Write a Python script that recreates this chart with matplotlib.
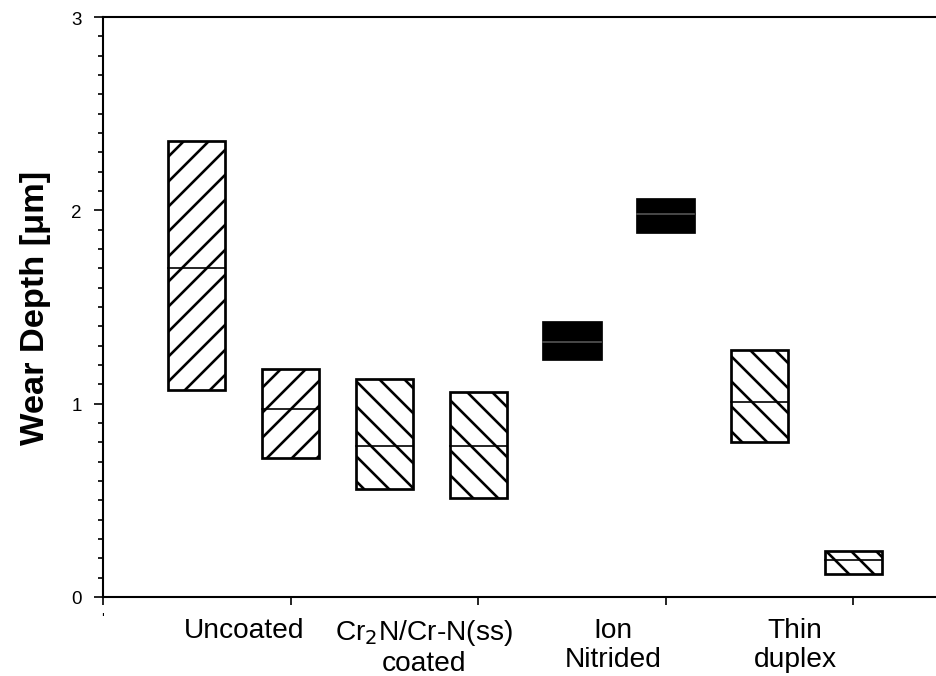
import matplotlib
matplotlib.use("Agg")
from matplotlib import pyplot as plt
from matplotlib import ticker

# Wear depth ranges per sample (two test conditions per surface treatment)
positions = [1, 2, 3, 4, 5, 6, 7, 8]
top = [2.36, 1.18, 1.13, 1.06, 1.42, 2.06, 1.28, 0.24]
bottom = [1.07, 0.72, 0.56, 0.51, 1.23, 1.89, 0.80, 0.12]
median = [1.70, 0.97, 0.78, 0.78, 1.32, 1.98, 1.01, 0.19]
hatches = ['//', '//', '\\\\', '\\\\', '', '', '\\\\', '\\\\']
fills = ['white', 'white', 'white', 'white', 'black', 'black', 'white', 'white']

groups = ['Uncoated', 'Cr$_2$N/Cr-N(ss)\ncoated', 'Ion\nNitrided', 'Thin\nduplex']
group_x = [1.51, 3.42, 5.44, 7.38]

plt.rcParams['font.family'] = ['Liberation Sans', 'DejaVu Sans']
plt.rcParams['hatch.linewidth'] = 1.25

fig = plt.figure(figsize=(6.24, 4.513), dpi=150)
ax = fig.add_axes([0.110, 0.1167, 0.890, 0.8567])

heights = [t - b for t, b in zip(top, bottom)]
width = 0.61
for x, h, b, m, hatch, fc in zip(positions, heights, bottom, median, hatches, fills):
    ax.bar(x, h, bottom=b, width=width, facecolor=fc, edgecolor='black',
           hatch=hatch, linewidth=1.3, zorder=2)
    line_color = '#555555' if fc == 'black' else 'black'
    ax.plot([x - width / 2, x + width / 2], [m, m], color=line_color,
            linewidth=0.8, zorder=3)

ax.set_xlim(0, 8.88)
ax.set_ylim(0, 3)

# Axes frame: left, bottom and top lines only
ax.spines['right'].set_visible(False)
for side in ['left', 'bottom', 'top']:
    ax.spines[side].set_linewidth(1.0)

ax.set_xticks([0, 2, 4, 6, 8])
ax.set_xticklabels(["'", '', '', '', ''], fontsize=7)
ax.tick_params(axis='x', direction='out', length=3.8, width=0.8, pad=3)

ax.yaxis.set_major_locator(ticker.MultipleLocator(1))
ax.yaxis.set_minor_locator(ticker.MultipleLocator(0.1))
ax.tick_params(axis='y', which='major', direction='out', length=4.3, width=0.8,
               pad=6, labelsize=9)
ax.tick_params(axis='y', which='minor', direction='out', length=2.4, width=0.8)

ax.set_ylabel('Wear Depth [\u03bcm]', fontsize=16.5, fontweight='bold')
ax.yaxis.set_label_coords(-0.062, 0.5)

for gx, label in zip(group_x, groups):
    ax.text(gx, -0.034, label, ha='center', va='top', fontsize=13.5,
            linespacing=1.15, transform=ax.get_xaxis_transform())

fig.savefig('out.png', dpi=150)
